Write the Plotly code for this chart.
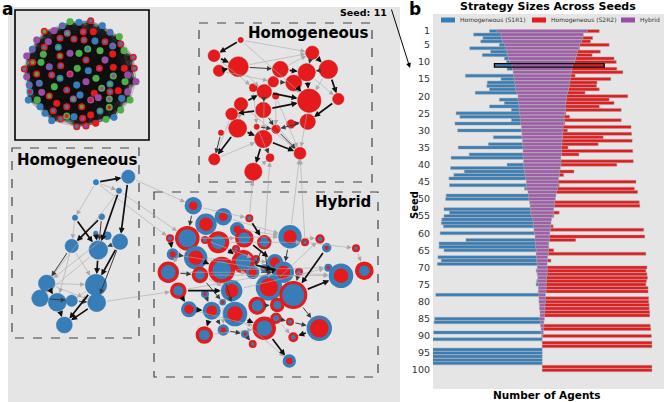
import plotly.graph_objects as go

# ---------------- panel b: strategy sizes per seed ----------------
seeds = list(range(1, 101))
hybrid = [82, 75, 74, 72, 68, 66, 64, 63, 61, 59,
          55, 54, 53, 52, 51, 50, 49, 48, 46, 44,
          44, 43, 42, 42, 41, 40, 40, 39, 38, 38,
          37, 37, 36, 36, 35, 35, 35, 34, 34, 34,
          33, 32, 31, 30, 29, 29, 28, 26, 25, 24,
          23, 22, 21, 21, 19, 17, 16, 16, 15, 14,
          13, 13, 12, 12, 11, 11, 10, 10, 9, 9,
          9, 9, 8, 8, 7, 7, 7, 6, 6, 6,
          5, 5, 4, 4, 4, 3, 3, 2, 2, 1,
          0, 0, 0, 0, 0, 0, 0, 0, 0, 0]
s1r1 = [7, 25, 17, 20, 5, 33, 15, 23, 4, 3,
        16, 5, 0, 44, 12, 25, 26, 24, 38, 0,
        17, 13, 27, 7, 58, 55, 8, 60, 0, 58,
        0, 26, 0, 31, 59, 0, 49, 66, 0, 15,
        67, 55, 65, 70, 0, 70, 2, 0, 75, 76,
        0, 0, 79, 74, 80, 83, 84, 82, 0, 86,
        0, 63, 88, 88, 84, 0, 90, 87, 91, 0,
        1, 0, 0, 1, 2, 0, 0, 94, 0, 0,
        0, 0, 0, 0, 96, 97, 0, 0, 98, 0,
        100, 0, 0, 100, 100, 100, 100, 100, 0, 0]
s2r2 = [11, 0, 9, 8, 27, 1, 21, 14, 35, 38,
        29, 41, 47, 4, 37, 25, 25, 28, 16, 56,
        39, 44, 31, 51, 1, 5, 52, 1, 62, 4,
        63, 37, 64, 33, 6, 65, 16, 0, 66, 51,
        0, 13, 4, 0, 71, 1, 70, 74, 0, 0,
        77, 78, 0, 5, 1, 0, 0, 2, 85, 0,
        87, 24, 0, 0, 5, 89, 0, 3, 0, 91,
        90, 91, 92, 91, 91, 93, 93, 0, 94, 94,
        95, 95, 96, 96, 0, 0, 97, 98, 0, 99,
        0, 100, 100, 0, 0, 0, 0, 0, 100, 100]
seed_ticks = [1, 5, 10, 15, 20, 25, 30, 35, 40, 45, 50,
              55, 60, 65, 70, 75, 80, 85, 90, 95, 100]
highlight_seed = 11
legend_names = ["Homogeneous (S1R1)", "Homogeneous (S2R2)", "Hybrid"]

# ---------------- panel a: network snapshots ----------------
# inset: full population (hairball), outer ring / inner colour codes
ins_x = [70, 79, 90.7, 102.3, 62.3, 54, 44.3, 67.3, 83.3, 93.3,
         110, 119.3, 36.7, 48.3, 60, 74, 84, 95, 105, 120.7,
         32.3, 44.3, 58.3, 70, 79, 87.7, 100, 112.7, 124, 26.7,
         43.3, 60, 86, 105, 112.7, 32.7, 41, 49.3, 60.7, 77.3,
         88.3, 99.3, 113.3, 124.3, 133.3, 134.3, 24.3, 36.7, 51.7, 60,
         70, 86, 96, 113.3, 127.7, 26.7, 136, 125, 29.3, 39.3,
         54.3, 76.7, 101.7, 110, 118.3, 127.7, 30, 41.7, 66.7, 80,
         94.3, 110, 121.7, 130, 28.3, 37.3, 49.3, 56.7, 73.3, 90.7,
         98.3, 109.3, 120.7, 40, 66.7, 81.7, 100, 109.3, 45, 53.3,
         74, 82.7, 90.7, 106, 114, 51.7, 60.7, 66.7, 76.7, 86, 95.7]
ins_y = [21.7, 22.3, 20.7, 25.7, 25.7, 30.7, 31.3, 33.3, 31.7, 31.7,
         32.3, 36.7, 40, 41.7, 38.3, 39, 40, 41, 41.7, 44,
         49.3, 47.3, 47.3, 53.3, 53.3, 49, 50.7, 46, 50.7, 56,
         54.3, 56, 60, 60, 54, 62.3, 62.3, 66.7, 65.7, 68.3,
         70.7, 68.3, 67.3, 68.3, 57.3, 68.3, 69, 74, 75, 78.3,
         74, 81.7, 78.3, 76, 75, 76.7, 81.7, 81.7, 85, 83.3,
         86.7, 85, 88.3, 84, 90.7, 91.7, 91.7, 92.3, 90, 95,
         93.3, 91.7, 98.3, 100, 100, 100, 96, 103.3, 99, 100,
         97.7, 99, 110, 106.7, 106.7, 106.7, 111, 107.3, 113.3, 110.7,
         116.7, 118.3, 115, 119.3, 117.3, 120.7, 119, 116, 126.7, 126, 123.3]
ins_cols = ("gg bb rb bb bp pp rg pg rp rr "
            "bp gg pp pp rb rb rb bb rb rb "
            "bp rb bg pp gg gb gg bp gg pp "
            "gg rg rb pp rr rg gg pb rb gg "
            "bb rp rr rr rb rb rb rg rb bg "
            "pr pp gg gp pp pp pp gg bp bp "
            "gg bb gp bg rr pp br pp rb bb "
            "rr rb bb gg bb gg rg rr pg pr "
            "pp gp gg bb rb rg bg gr bb rb "
            "bb rp rr gg bb bb rb gr rb rp rr").split()

# homogeneous S2R2 community
red_x = [240.7, 214, 238.3, 219, 312.3, 328.3, 280.3, 306.7, 273.3, 293.7,
         253.3, 264.3, 275.7, 309.3, 338.3, 241, 263.3, 231.7, 291, 307.7,
         237.7, 256.7, 276, 221, 263.3, 300, 270, 214.3, 253.3]
red_y = [40, 55.7, 66.7, 70.7, 52.7, 69.3, 69.3, 72.3, 81.7, 83,
         87.7, 91.7, 96, 100.7, 99, 104.3, 110, 114, 124, 121.7,
         128.3, 126.7, 129.3, 132.7, 139, 153.3, 157.7, 159.3, 171.7]
red_r = [2.7, 6, 10, 5.7, 6.7, 9.3, 8, 8.7, 5.3, 8,
         4, 7.3, 3.3, 11.7, 5.7, 6.7, 7.7, 6, 4.3, 7.7,
         9, 2.7, 4.3, 2.7, 8.7, 6, 4, 5.7, 8.7]
red_edges = [(1, 2, 3), (2, 3, 3), (4, 3, 3), (5, 6, 3), (6, 15, 3), (7, 8, 3),
             (8, 14, 3), (12, 14, 3), (9, 12, 3), (16, 12, 3), (17, 14, 3),
             (18, 21, 3), (21, 25, 3), (25, 26, 3), (25, 29, 3), (21, 28, 3),
             (24, 28, 2), (14, 20, 3), (15, 20, 3), (20, 23, 2), (17, 18, 3),
             (11, 12, 2), (3, 12, 1), (10, 8, 3), (6, 8, 2), (16, 18, 3),
             (22, 23, 2), (19, 20, 2), (1, 5, 1), (1, 14, 1), (3, 5, 1),
             (2, 11, 1), (4, 9, 1), (7, 5, 1), (6, 14, 1), (12, 25, 1),
             (16, 26, 1), (17, 26, 1), (29, 27, 1), (28, 25, 1), (22, 27, 1),
             (13, 26, 1), (3, 7, 2), (10, 14, 3), (12, 17, 2), (7, 10, 2),
             (16, 21, 1), (18, 28, 1), (11, 22, 1), (13, 23, 1), (9, 10, 2),
             (14, 26, 1), (23, 26, 2), (25, 27, 2), (17, 23, 2), (8, 15, 1),
             (5, 8, 2)]

# homogeneous S1R1 community
blu_x = [128.3, 96, 119, 75, 101.7, 95.7, 107.3, 120, 71.7, 98.3,
         46.7, 96, 40, 57.3, 71.7, 96.7, 64.3]
blu_y = [176.7, 182.3, 190.7, 217.7, 216.7, 233.3, 235.7, 241.7, 246, 250,
         283.3, 285, 298.3, 302.3, 300.7, 302.7, 325]
blu_r = [6.7, 2.7, 2.7, 2.7, 3, 2.3, 4, 7.7, 6.7, 9.3,
         8.3, 10.7, 8.3, 9, 5.7, 9, 8]
blu_edges = [(2, 1, 3), (1, 8, 3), (3, 10, 3), (4, 10, 3), (5, 9, 3), (10, 12, 3),
             (8, 12, 3), (12, 17, 3), (16, 17, 3), (11, 14, 3), (13, 14, 2),
             (14, 17, 3), (9, 11, 2), (2, 4, 1), (3, 11, 1), (9, 14, 1), (7, 11, 1),
             (10, 13, 1), (11, 12, 1), (15, 16, 2), (12, 15, 1), (6, 10, 3),
             (7, 10, 3), (8, 10, 2), (9, 12, 1), (11, 16, 1), (12, 16, 3),
             (4, 9, 1), (2, 3, 1), (8, 16, 2), (5, 10, 2), (13, 15, 2), (11, 13, 3)]

# hybrid community (outer ring colour, inner disc is the other strategy)
hyb_x = [193.3, 223.3, 206, 249.3, 237.3, 187.3, 170, 218.3, 244.3, 205,
         264.3, 290, 305, 320, 326.7, 356, 172.7, 195.7, 243.3, 236,
         256, 275, 221.7, 252.7, 264.3, 283.3, 299, 168.3, 200, 328.3,
         341, 364.3, 178.3, 205, 231.7, 269, 293.3, 222.7, 189, 211.7,
         235, 257.3, 277.3, 276, 290, 264.3, 319.3, 223.3, 245, 204.3,
         293.3, 252.7, 289.3]
hyb_y = [205.7, 216.7, 224.3, 218.3, 229.3, 238.3, 238.3, 242.3, 238.3, 240,
         242.3, 236.7, 242.3, 239, 247.7, 248.3, 254.3, 257.7, 261.7, 249,
         259, 262.3, 270, 272.3, 268.3, 272.3, 271.7, 272.3, 275, 267.7,
         275.7, 270.7, 290.7, 294, 290.7, 287.3, 295, 302.3, 309.3, 310.7,
         314, 305.7, 305, 318.3, 321.7, 328.3, 328.3, 330, 334, 335,
         337.3, 344, 361]
hyb_r_out = [8.7, 8.7, 10.7, 4, 7.3, 12.3, 4, 11, 9.3, 4,
             7.3, 11.7, 4, 4.7, 4.7, 4, 6, 11.7, 11.7, 4,
             4, 8.3, 13.3, 6.7, 4, 10.7, 4, 10.7, 8.3, 4,
             12.3, 9.3, 8.3, 4, 10.7, 13.3, 14, 3.3, 8, 9,
             12.3, 9, 7.3, 5.7, 4, 11.7, 12.7, 5.7, 4, 8.7,
             5, 4, 6.7]
hyb_r_in = [4.3, 4.3, 6.7, 2, 3.7, 9, 2, 7, 6, 2,
            4.7, 6.7, 1.7, 2.3, 2, 1.7, 3, 7.3, 7.7, 1.7,
            1.7, 5, 9.3, 4, 2, 6.7, 1.7, 7.3, 4.7, 1.7,
            7.3, 5.3, 5, 1.7, 6.7, 9, 11, 1.7, 4.7, 5.3,
            7.7, 5.7, 4, 3, 2, 7.7, 9.3, 2.7, 1.7, 5.3,
            2.3, 1.7, 3.3]
hyb_outer = ("b b b r b r r r r r r b r r b r b b r r r b r b b b r r r b "
             "b r r b b b r b b b b r r r r r b b b r r r b").split()
hyb_edges = [(1, 3, 3), (2, 5, 3), (4, 11, 3), (7, 17, 3), (17, 28, 3), (28, 33, 3),
             (33, 39, 3), (18, 23, 3), (8, 19, 3), (22, 36, 3), (36, 42, 3),
             (26, 37, 3), (37, 31, 3), (37, 47, 2), (47, 51, 3), (46, 53, 3),
             (14, 15, 2), (30, 31, 2), (11, 36, 2), (41, 46, 3), (39, 40, 3),
             (44, 45, 2), (43, 37, 3), (24, 26, 2), (19, 26, 3), (40, 50, 3),
             (42, 46, 3), (49, 52, 2), (48, 49, 2), (35, 23, 3), (33, 35, 3),
             (29, 38, 2), (15, 37, 3), (9, 22, 3), (11, 24, 2), (1, 4, 1),
             (2, 12, 1), (5, 12, 1), (6, 12, 1), (8, 13, 1), (17, 26, 1),
             (28, 24, 1), (33, 26, 1), (39, 46, 1), (50, 46, 1), (41, 53, 1),
             (36, 14, 1), (18, 22, 1), (23, 30, 1), (29, 31, 1), (35, 30, 1),
             (6, 9, 1), (10, 21, 1), (12, 14, 1), (13, 16, 1), (16, 32, 1),
             (31, 32, 2), (6, 18, 2), (3, 8, 2), (5, 9, 2), (23, 41, 2),
             (35, 41, 2), (29, 35, 1), (20, 19, 2), (25, 26, 2), (27, 37, 2),
             (21, 24, 2), (45, 47, 2), (44, 51, 1), (34, 40, 2), (38, 48, 1),
             (40, 48, 2), (42, 43, 2), (12, 26, 2), (28, 29, 2), (17, 18, 2),
             (26, 31, 1), (6, 28, 1), (1, 6, 2)]
cross_edges = [("hyb", 4, "red", 29), ("hyb", 11, "red", 27), ("hyb", 13, "red", 26),
               ("hyb", 12, "red", 26), ("blu", 2, "hyb", 7), ("blu", 3, "hyb", 6),
               ("blu", 16, "hyb", 33), ("blu", 1, "hyb", 1)]

BLUE = "#377eb8"
RED = "#e41a1c"
GREEN = "#4daf4a"
PURPLE = "#984ea3"
COL = {"r": RED, "b": BLUE, "g": GREEN, "p": PURPLE}
FONT = "DejaVu Sans"
W, H = 664, 402

fig = go.Figure()

# ---- bars (hybrid centred on zero, homogeneous groups on either side)
half = [h / 2 for h in hybrid]
blue_base = [-hh - b for hh, b in zip(half, s1r1)]
hyb_base = [-hh for hh in half]
nz = lambda v: [x if x > 0 else None for x in v]
edge = dict(color="rgba(165,165,165,0.8)", width=0.6)

fig.add_trace(go.Bar(y=seeds, x=nz(s1r1), base=blue_base, orientation="h",
                     name=legend_names[0], width=0.88,
                     marker=dict(color=BLUE, line=edge)))
fig.add_trace(go.Bar(y=seeds, x=nz(s2r2), base=half, orientation="h",
                     name=legend_names[1], width=0.88,
                     marker=dict(color=RED, line=edge)))
fig.add_trace(go.Bar(y=seeds, x=nz(hybrid), base=hyb_base, orientation="h",
                     name=legend_names[2], width=0.88,
                     marker=dict(color=PURPLE, opacity=0.9, line=edge)))

i = seeds.index(highlight_seed)
fig.add_shape(type="rect", xref="x", yref="y",
              x0=blue_base[i], x1=half[i] + s2r2[i],
              y0=highlight_seed - 0.5, y1=highlight_seed + 0.5,
              line=dict(color="black", width=1.3))

# ---- inset hairball: every pair of agents linked
hx, hy = [], []
n = len(ins_x)
for a in range(n):
    for b in range(a + 1, n):
        hx += [ins_x[a], ins_x[b], None]
        hy += [ins_y[a], ins_y[b], None]
fig.add_trace(go.Scatter(x=hx, y=hy, mode="lines", xaxis="x2", yaxis="y2",
                         line=dict(color="rgba(15,15,15,1)", width=0.2),
                         hoverinfo="skip", showlegend=False))
fig.add_trace(go.Scatter(x=ins_x, y=ins_y, mode="markers", xaxis="x2", yaxis="y2",
                         marker=dict(size=[5.4 if c[0] != c[1] else 6.8 for c in ins_cols],
                                     opacity=1,
                                     color=[COL[c[1]] for c in ins_cols],
                                     line=dict(color=[COL[c[0]] for c in ins_cols],
                                               width=[1.6 if c[0] != c[1] else 0.3
                                                      for c in ins_cols])),
                         hoverinfo="skip", showlegend=False))

# ---- directed edges of the three communities
nodes = {"red": (red_x, red_y, red_r), "blu": (blu_x, blu_y, blu_r),
         "hyb": (hyb_x, hyb_y, hyb_r_out)}
style = {1: (0.6, "#a9a9a9", 1.6), 2: (1.0, "#3a3a3a", 1.0), 3: (1.7, "#101010", 0.7)}
ann = []


def arrow(g0, s, g1, t, w):
    x0, y0, r0 = nodes[g0]
    x1, y1, r1 = nodes[g1]
    lw, c, hs = style[w]
    return dict(x=x1[t - 1], y=y1[t - 1], ax=x0[s - 1], ay=y0[s - 1],
                xref="x2", yref="y2", axref="x2", ayref="y2", text="",
                showarrow=True, arrowhead=2, arrowsize=hs, arrowwidth=lw,
                arrowcolor=c, standoff=r1[t - 1] + 0.3,
                startstandoff=r0[s - 1])


for w in (1, 2, 3):
    for g, edges in (("red", red_edges), ("blu", blu_edges), ("hyb", hyb_edges)):
        ann += [arrow(g, s, g, t, ww) for s, t, ww in edges if ww == w]
    if w == 1:
        ann += [arrow(a, s, b, t, 1) for a, s, b, t in cross_edges]

# ---- community nodes
fig.add_trace(go.Scatter(x=red_x, y=red_y, mode="markers", xaxis="x2", yaxis="y2",
                         marker=dict(size=[2 * r for r in red_r], color=RED, opacity=1,
                                     line=dict(color="#d0181b", width=0.5)),
                         hoverinfo="skip", showlegend=False))
fig.add_trace(go.Scatter(x=blu_x, y=blu_y, mode="markers", xaxis="x2", yaxis="y2",
                         marker=dict(size=[2 * r for r in blu_r], color=BLUE, opacity=1,
                                     line=dict(color="#3274ab", width=0.5)),
                         hoverinfo="skip", showlegend=False))
fig.add_trace(go.Scatter(x=hyb_x, y=hyb_y, mode="markers", xaxis="x2", yaxis="y2",
                         marker=dict(size=[o + r for o, r in zip(hyb_r_out, hyb_r_in)],
                                     opacity=1,
                                     color=[RED if c == "b" else BLUE for c in hyb_outer],
                                     line=dict(color=[COL[c] for c in hyb_outer],
                                               width=[o - r for o, r in zip(hyb_r_out, hyb_r_in)])),
                         hoverinfo="skip", showlegend=False))

# ---- boxes
box = dict(type="rect", xref="x2", yref="y2", line=dict(color="#444", width=1.2, dash="dash"))
fig.add_shape(x0=199, x1=372, y0=23, y1=182, **box)
fig.add_shape(x0=12, x1=139, y0=148, y1=338, **box)
fig.add_shape(x0=154, x1=378, y0=192, y1=377, **box)
fig.add_shape(type="rect", xref="x2", yref="y2", x0=15, x1=149, y0=10, y1=140,
              line=dict(color="black", width=1.6))


# ---- text
def txt(s, x, y, size, xanchor="center", ref="x2", angle=0, bold=True, color="black"):
    return dict(text=("<b>%s</b>" % s) if bold else s, x=x, y=y, xref=ref,
                yref=ref.replace("x", "y"), showarrow=False, xanchor=xanchor,
                yanchor="middle", textangle=angle,
                font=dict(family=FONT, size=size, color=color))


# ---- legend drawn by hand inside panel b
leg_cols = [BLUE, RED, PURPLE]
leg_x = [441, 532, 621]
for name, c, lx in zip(legend_names, leg_cols, leg_x):
    fig.add_shape(type="rect", xref="paper", yref="paper",
                  x0=lx / W, x1=(lx + 14) / W, y0=1 - 22.5 / H, y1=1 - 17.5 / H,
                  fillcolor=c, line=dict(width=0))
    ann.append(txt(name, (lx + 17) / W, 1 - 20 / H, 6, "left", "paper",
                   bold=False, color="#333"))

ann += [txt("Homogeneous", 371, 33, 15, "right"),
        txt("Homogeneous", 15, 160, 15, "left"),
        txt("Hybrid", 373, 202, 15, "right"),
        txt("Seed: 11", 389, 13, 9.5, "right"),
        txt("a", 0, 1 - 9 / H, 17, "left", "paper"),
        txt("b", 407 / W, 1 - 9 / H, 17, "left", "paper"),
        txt("Strategy Sizes Across Seeds", 548 / W, 1 - 7 / H, 11, "center", "paper"),
        txt("Number of Agents", 547 / W, 1 - 395 / H, 10.5, "center", "paper"),
        txt("Seed", 415 / W, 1 - 205 / H, 10, "center", "paper", -90)]
ann.append(dict(x=410 / W, y=1 - 68 / H, xref="paper", yref="paper",
                ax=-19, ay=-60, text="", showarrow=True, arrowhead=2,
                arrowsize=1, arrowwidth=1, arrowcolor="black"))

fig.update_layout(
    width=W, height=H, margin=dict(l=0, r=0, t=0, b=0, autoexpand=False),
    paper_bgcolor="white", plot_bgcolor="#e5e5e5",
    barmode="overlay", annotations=ann, showlegend=False,
    font=dict(family=FONT, size=9, color="#333"),
    xaxis=dict(domain=[433 / W, 1], range=[-99.5, 111], showticklabels=False,
               showgrid=False, zeroline=False, ticks=""),
    yaxis=dict(domain=[13 / H, 1 - 14 / H], range=[105.5, -4], tickvals=seed_ticks,
               showgrid=False, zeroline=False, ticks="", ticklabelstandoff=2,
               tickfont=dict(size=9.5, color="#333")),
    xaxis2=dict(domain=[8 / W, 400 / W], range=[8, 400], visible=False, anchor="y2"),
    yaxis2=dict(domain=[0, 395 / H], range=[402, 7], visible=False, anchor="x2"),
)

# the page's default body margin would push the figure 8px off the window
fig.write_html("out.html", config={"displayModeBar": False},
               post_script="document.body.style.margin='0px';")
